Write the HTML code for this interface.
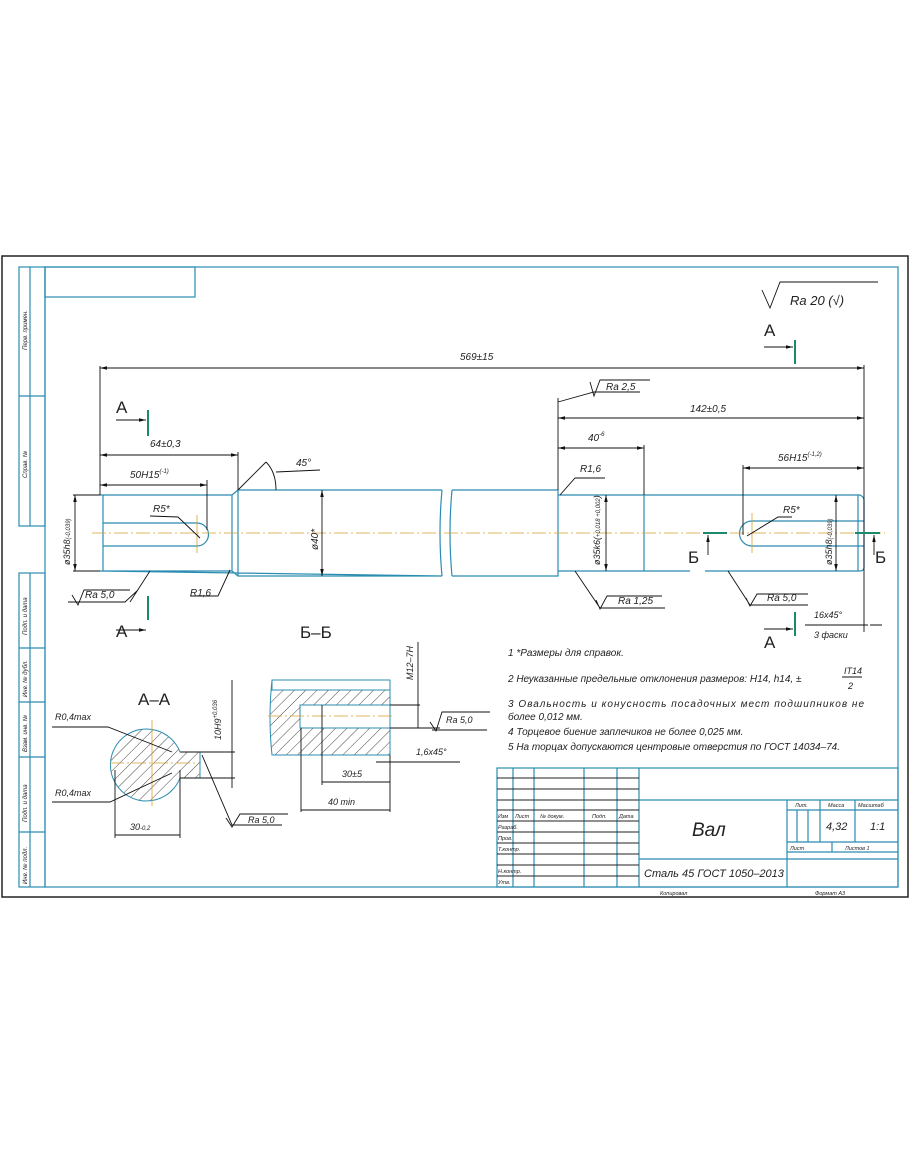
<!DOCTYPE html>
<html><head><meta charset="utf-8"><style>
html,body{margin:0;padding:0;background:#fff}
svg{display:block}
text{font-family:"Liberation Sans","DejaVu Sans",sans-serif;font-style:italic;fill:#222}
.b{stroke:#2a8cb0;fill:none;stroke-width:1.2}
.k{stroke:#111;fill:none;stroke-width:0.9}
.c{stroke:#d8a030;stroke-width:0.8;stroke-dasharray:14 3 2 3;fill:none}
.g{stroke:#1a8a6a;stroke-width:2}
.h{stroke:#333;stroke-width:0.6}
</style></head><body>
<svg width="910" height="1155" viewBox="0 0 910 1155" xmlns="http://www.w3.org/2000/svg">
<defs>
<marker id="a" markerWidth="8" markerHeight="6" refX="8" refY="3" orient="auto-start-reverse"><path d="M0,1 L8,3 L0,5z" fill="#111"/></marker>
<pattern id="hp" width="8" height="8" patternUnits="userSpaceOnUse" patternTransform="rotate(45)"><line x1="0" y1="0" x2="0" y2="8" stroke="#333" stroke-width="0.9"/></pattern>
</defs>
<rect x="2" y="256" width="906" height="641" fill="none" stroke="#222" stroke-width="1.5"/>
<rect x="45" y="267" width="853" height="620" class="b"/>
<!-- left strips -->
<rect x="19" y="267" width="26" height="259" class="b"/><line x1="30" y1="267" x2="30" y2="526" class="b"/><line x1="19" y1="396" x2="45" y2="396" class="b"/>
<rect x="19" y="573" width="26" height="314" class="b"/><line x1="30" y1="573" x2="30" y2="887" class="b"/>
<line x1="19" y1="648" x2="45" y2="648" class="b"/><line x1="19" y1="702" x2="45" y2="702" class="b"/><line x1="19" y1="757" x2="45" y2="757" class="b"/><line x1="19" y1="832" x2="45" y2="832" class="b"/>
<g font-size="6">
<text transform="translate(27,350) rotate(-90)">Перв. примен.</text>
<text transform="translate(27,478) rotate(-90)">Справ. №</text>
<text transform="translate(27,635) rotate(-90)">Подп. и дата</text>
<text transform="translate(27,697) rotate(-90)">Инв. № дубл.</text>
<text transform="translate(27,752) rotate(-90)">Взам. инв. №</text>
<text transform="translate(27,822) rotate(-90)">Подп. и дата</text>
<text transform="translate(27,884) rotate(-90)">Инв. № подл.</text>
</g>
<rect x="45" y="267" width="150" height="30" class="b"/>
<!-- roughness -->
<path d="M762,290 L770,308 L780,282 L878,282" class="k"/>
<text x="790" y="305" font-size="13">Ra 20 (√)</text>
<!-- shaft -->
<path d="M100,495 L232,495 L238,490 L442,490 M442,576 L238,576 L232,571 L100,571 Z M232,495 L232,571 M238,490 L238,576" class="b"/>
<path d="M442,490 Q438,533 442,576 M452,490 Q448,533 452,576" class="b"/>
<path d="M452,490 L558,490 L558,576 L452,576 M558,495 L860,495 Q864,497 864,500 L864,567 Q864,571 860,571 L705,571 M690,571 L558,571" class="b"/>
<path d="M103,495 L103,571 M644,495 L644,571 M858,495 L858,571" class="b"/>
<path d="M103,523 L197,523 A11,11 0 0 1 197,546 L103,546" class="b"/>
<path d="M864,521 L752,521 A12,12 0 0 0 752,546 L864,546" class="b"/>
<line x1="92" y1="533" x2="885" y2="533" class="c"/>
<line x1="197" y1="515" x2="197" y2="553" stroke="#d8a030" stroke-width="0.8"/>
<line x1="752" y1="513" x2="752" y2="553" stroke="#d8a030" stroke-width="0.8"/>
<!-- dims -->
<g class="k">
<line x1="100" y1="366" x2="100" y2="495"/><line x1="864" y1="365" x2="864" y2="632"/>
<line x1="100" y1="368" x2="864" y2="368" marker-start="url(#a)" marker-end="url(#a)"/>
<line x1="558" y1="398" x2="558" y2="490"/>
<line x1="558" y1="418" x2="864" y2="418" marker-start="url(#a)" marker-end="url(#a)"/>
<line x1="558" y1="448" x2="644" y2="448" marker-start="url(#a)" marker-end="url(#a)"/><line x1="644" y1="445" x2="644" y2="495"/>
<line x1="743" y1="465" x2="743" y2="535"/>
<line x1="743" y1="468" x2="864" y2="468" marker-start="url(#a)" marker-end="url(#a)"/>
<line x1="100" y1="455" x2="238" y2="455" marker-start="url(#a)" marker-end="url(#a)"/><line x1="238" y1="452" x2="238" y2="490"/>
<line x1="100" y1="485" x2="207" y2="485" marker-start="url(#a)" marker-end="url(#a)"/><line x1="207" y1="480" x2="207" y2="530"/>
<line x1="73" y1="495" x2="100" y2="495"/><line x1="73" y1="571" x2="100" y2="571"/>
<line x1="75" y1="495" x2="75" y2="571" marker-start="url(#a)" marker-end="url(#a)"/>
<line x1="322" y1="490" x2="322" y2="576" marker-start="url(#a)" marker-end="url(#a)"/>
<line x1="606" y1="495" x2="606" y2="571" marker-start="url(#a)" marker-end="url(#a)"/>
<line x1="836" y1="495" x2="836" y2="571" marker-start="url(#a)" marker-end="url(#a)"/>
<path d="M238,490 L266,462 M266,462 Q276,472 276,490 M276,472 L320,470"/>
<path d="M150,516 L178,517 L200,538"/>
<path d="M792,517 L778,517 L747,536"/>
<path d="M138,590 L125,602 L68,602 M72,595 L78,605 L84,590 L130,590 M150,571 L130,602"/>
<path d="M230,570 L218,596 L190,596"/>
<path d="M560,495 L575,478 L605,478"/>
<path d="M558,402 L594,392 L640,392 M590,382 L594,396 L600,380 L650,380"/>
<path d="M575,571 L600,608 L665,608 M596,600 L600,609 L607,596 L662,596"/>
<path d="M728,571 L750,605 L808,605 M746,598 L750,606 L757,594 L808,594"/>
<path d="M805,625 L868,625 M870,625 L882,625"/>
</g>
<g font-size="10">
<text x="460" y="360">569±15</text>
<text x="690" y="412">142±0,5</text>
<text x="588" y="441">40<tspan font-size="6" dy="-5">-6</tspan></text>
<text x="778" y="461">56H15<tspan font-size="6" dy="-5">(-1,2)</tspan></text>
<text x="150" y="447">64±0,3</text>
<text x="130" y="478">50H15<tspan font-size="6" dy="-5">(-1)</tspan></text>
<text x="296" y="466">45°</text>
<text x="153" y="512">R5*</text>
<text x="783" y="513">R5*</text>
<text x="190" y="596">R1,6</text>
<text x="580" y="472">R1,6</text>
<text x="85" y="598">Ra 5,0</text>
<text x="606" y="390">Ra 2,5</text>
<text x="618" y="604">Ra 1,25</text>
<text x="767" y="601">Ra 5,0</text>
<text x="814" y="618" font-size="9">16x45°</text>
<text x="814" y="638" font-size="9">3 фаски</text>
<text transform="translate(70,565) rotate(-90)" font-size="9">ø35h8<tspan font-size="6">(-0,039)</tspan></text>
<text transform="translate(318,550) rotate(-90)" font-size="10">ø40*</text>
<text transform="translate(600,565) rotate(-90)" font-size="9">ø35k6(<tspan font-size="6">+0,018 +0,002</tspan>)</text>
<text transform="translate(832,565) rotate(-90)" font-size="9">ø35h8<tspan font-size="6">(-0,039)</tspan></text>
</g>
<!-- section marks -->
<g font-size="17" font-style="normal"><text x="116" y="413" style="font-style:normal">A</text><text x="116" y="637" style="font-style:normal">A</text>
<text x="764" y="336" style="font-style:normal">A</text><text x="764" y="648" style="font-style:normal">A</text>
<text x="688" y="563" style="font-style:normal">Б</text><text x="875" y="563" style="font-style:normal">Б</text>
<text x="300" y="638" style="font-style:normal">Б–Б</text><text x="138" y="705" style="font-style:normal">А–А</text></g>
<g class="g"><line x1="148" y1="410" x2="148" y2="436"/><line x1="148" y1="596" x2="148" y2="620"/><line x1="795" y1="340" x2="795" y2="364"/><line x1="795" y1="612" x2="795" y2="636"/><line x1="703" y1="533" x2="727" y2="533"/><line x1="855" y1="533" x2="880" y2="533"/></g>
<g class="k"><line x1="116" y1="420" x2="146" y2="420" marker-end="url(#a)"/><line x1="116" y1="630" x2="146" y2="630" marker-end="url(#a)"/><line x1="764" y1="347" x2="793" y2="347" marker-end="url(#a)"/><line x1="764" y1="629" x2="793" y2="629" marker-end="url(#a)"/><line x1="708" y1="555" x2="708" y2="535" marker-end="url(#a)"/><line x1="874" y1="555" x2="874" y2="535" marker-end="url(#a)"/></g>
<!-- A-A -->
<path d="M180,752 A36,36 0 1 0 180,778 L200,778 L200,752 Z" fill="url(#hp)" stroke="#2a8cb0"/>
<line x1="110" y1="763" x2="196" y2="763" class="c"/><line x1="152" y1="720" x2="152" y2="806" stroke="#d8a030" stroke-width="0.8"/>
<g class="k">
<path d="M180,752 L235,752 M180,778 L235,778 M232,680 L232,788"/>
<path d="M52,727 L108,727 L172,752 M52,802 L110,802 L172,773"/>
<path d="M115,770 L115,838 M180,770 L180,838 M115,835 L180,835"/>
<path d="M202,755 L232,825 L282,825 M226,818 L232,827 L240,814 L288,814"/>
</g>
<g font-size="9"><text x="55" y="720">R0,4max</text><text x="55" y="796">R0,4max</text><text x="130" y="830">30<tspan font-size="6">-0,2</tspan></text><text x="248" y="823">Ra 5,0</text>
<text transform="translate(221,740) rotate(-90)">10H9<tspan font-size="6" dy="-4">+0,036</tspan></text></g>
<!-- Б-Б -->
<path d="M272,680 L386,680 Q390,682 390,690 L390,755 L272,755 Q268,718 272,680 Z" fill="url(#hp)" stroke="#2a8cb0"/>
<rect x="272" y="680" width="118" height="10" fill="#fff" stroke="#2a8cb0"/>
<rect x="300" y="705" width="90" height="23" fill="#fff" stroke="#2a8cb0"/>
<line x1="268" y1="716" x2="395" y2="716" class="c"/>
<g class="k">
<path d="M390,705 L420,705 M390,728 L440,728 M418,642 L418,728 M432,730 L487,730 M430,722 L436,731 L442,712 L490,712"/>
<path d="M301,728 L301,812 M322,705 L322,785 M390,755 L390,812 M322,782 L390,782 M301,810 L390,810 M376,762 L460,762"/>
</g>
<g font-size="9"><text transform="translate(413,680) rotate(-90)">M12–7H</text><text x="446" y="723">Ra 5,0</text><text x="416" y="755">1,6x45°</text><text x="342" y="777">30±5</text><text x="328" y="805">40 min</text></g>
<!-- notes -->
<g font-size="10"><text x="508" y="656">1  *Размеры для справок.</text>
<text x="508" y="682">2  Неуказанные предельные отклонения размеров: H14, h14, ±</text>
<text x="844" y="674" font-size="9">IT14</text><line x1="842" y1="677" x2="862" y2="677" class="k"/><text x="848" y="689" font-size="9">2</text>
<text x="508" y="707" textLength="356">3  Овальность  и  конусность  посадочных  мест  подшипников  не</text>
<text x="508" y="720">более 0,012 мм.</text>
<text x="508" y="735">4  Торцевое биение заплечиков не более 0,025 мм.</text>
<text x="508" y="750">5  На торцах допускаются центровые отверстия по ГОСТ 14034–74.</text></g>
<!-- title block -->
<g class="b">
<rect x="497" y="768" width="401" height="119"/>
<line x1="513" y1="768" x2="513" y2="887"/><line x1="534" y1="768" x2="534" y2="887"/><line x1="584" y1="768" x2="584" y2="887"/><line x1="617" y1="768" x2="617" y2="887"/><line x1="639" y1="768" x2="639" y2="887"/>
<line x1="639" y1="800" x2="898" y2="800"/><line x1="639" y1="859" x2="898" y2="859"/>
<line x1="787" y1="800" x2="787" y2="887"/><line x1="787" y1="810" x2="898" y2="810"/><line x1="787" y1="842" x2="898" y2="842"/><line x1="787" y1="852" x2="898" y2="852"/>
<line x1="820" y1="800" x2="820" y2="842"/><line x1="855" y1="800" x2="855" y2="842"/><line x1="832" y1="842" x2="832" y2="852"/>
<line x1="797" y1="810" x2="797" y2="842"/><line x1="808" y1="810" x2="808" y2="842"/>
</g>
<g stroke="#222" stroke-width="0.9">
<line x1="497" y1="778" x2="639" y2="778"/><line x1="497" y1="789" x2="639" y2="789"/><line x1="497" y1="800" x2="639" y2="800"/><line x1="497" y1="810" x2="639" y2="810"/>
<line x1="497" y1="821" x2="639" y2="821"/><line x1="497" y1="832" x2="639" y2="832"/><line x1="497" y1="843" x2="639" y2="843"/><line x1="497" y1="854" x2="639" y2="854"/><line x1="497" y1="865" x2="639" y2="865"/><line x1="497" y1="876" x2="639" y2="876"/>
</g>
<g font-size="5.5"><text x="498" y="818">Изм</text><text x="515" y="818">Лист</text><text x="540" y="818">№ докум.</text><text x="592" y="818">Подп.</text><text x="619" y="818">Дата</text>
<text x="498" y="829">Разраб.</text><text x="498" y="840">Пров.</text><text x="498" y="851">Т.контр.</text><text x="498" y="873">Н.контр.</text><text x="498" y="884">Утв.</text>
<text x="795" y="807">Лит.</text><text x="828" y="807">Масса</text><text x="858" y="807">Масштаб</text><text x="790" y="850">Лист</text><text x="845" y="850">Листов  1</text>
<text x="660" y="895">Копировал</text><text x="815" y="895">Формат   A3</text></g>
<text x="692" y="836" font-size="19">Вал</text>
<text x="826" y="830" font-size="11">4,32</text><text x="870" y="830" font-size="11">1:1</text>
<text x="644" y="877" font-size="11">Сталь 45 ГОСТ 1050–2013</text>
</svg>
</body></html>
